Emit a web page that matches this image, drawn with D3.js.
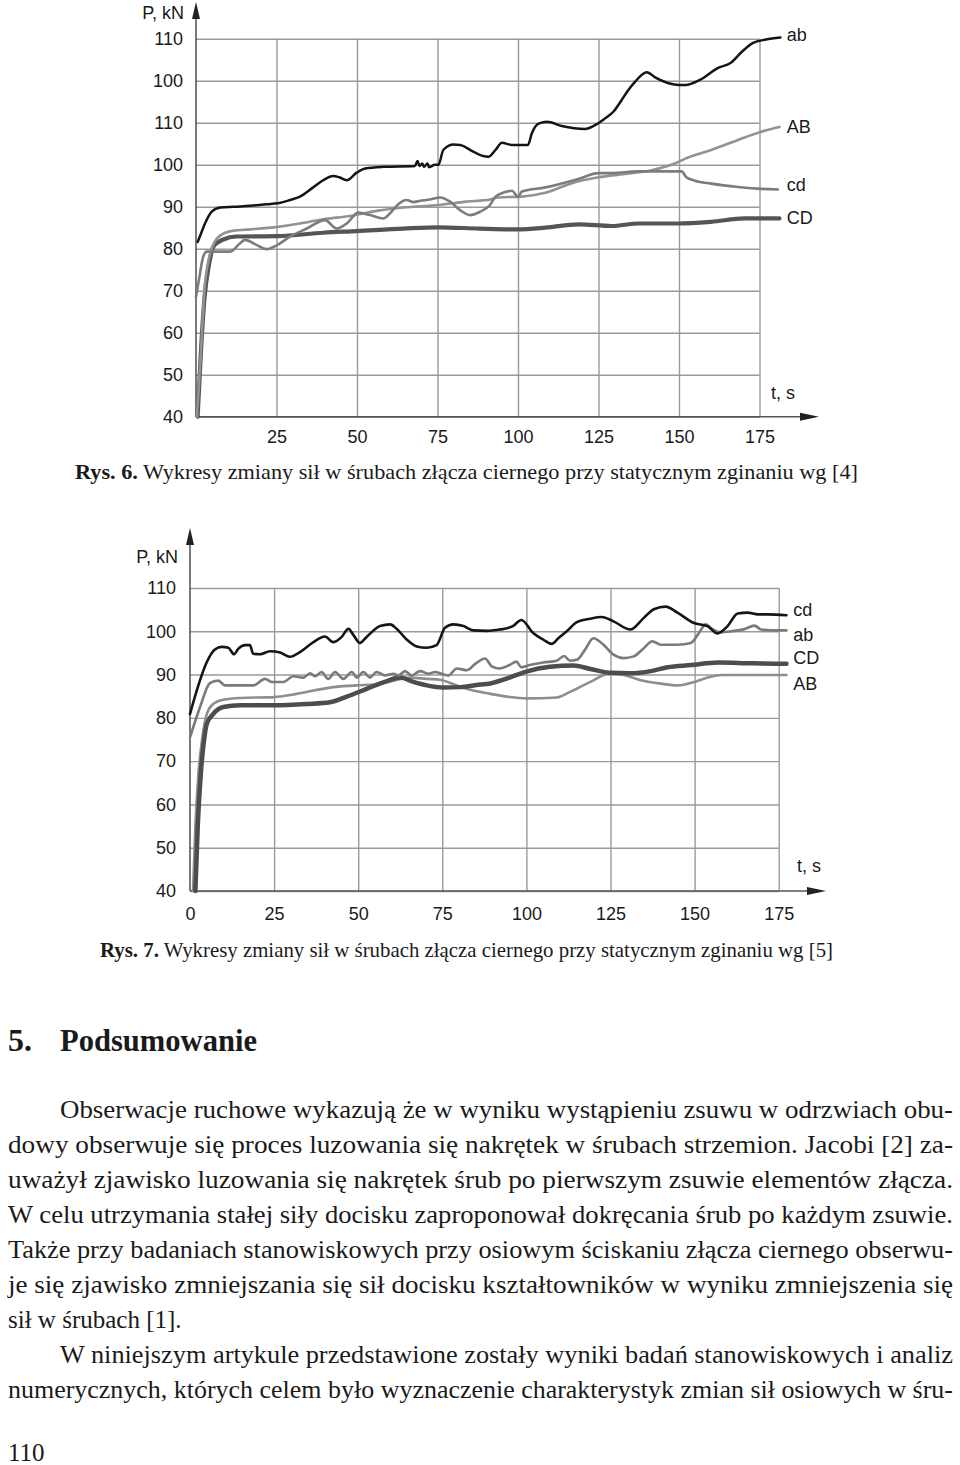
<!DOCTYPE html>
<html>
<head>
<meta charset="utf-8" />
<title>Rys. 6 i 7</title>
<script src="https://d3js.org/d3.v7.min.js"></script>
<style>
    body { margin: 0; background: #fff; }
    .chart text { font-family: "Liberation Sans", Arial, sans-serif; font-size: 18px; fill: #1a1a1a; }
    .grid line { stroke: #9a9a9a; stroke-width: 1.4; }
    .grid path { display: none; }
    .page text { font-family: "Liberation Serif", "Times New Roman", serif; fill: #1a1a1a; }
</style>
</head>
<body>
<div id="page"></div>
<script>
// ---- data (t in s, P in axis position units) ----
var timeTicks6 = [25, 50, 75, 100, 125, 150, 175];
var timeTicks7 = [0, 25, 50, 75, 100, 125, 150, 175];
var forceTicks6 = [40, 50, 60, 70, 80, 90, 100, 110, 120, 130];
var forceLabels6 = ["40", "50", "60", "70", "80", "90", "100", "110", "100", "110"];
var forceTicks7 = [40, 50, 60, 70, 80, 90, 100, 110];
var forceLabels7 = ["40", "50", "60", "70", "80", "90", "100", "110"];

var fig6_ab = [[0.5,81.6],[1.2,82.9],[2.8,86],[4.9,88.8],[7.5,89.8],[11.6,90],[16.8,90.2],[22,90.6],[25.3,90.8],[29.2,91.6],[32.3,92.4],[36.4,94.6],[39.5,96.3],[42.6,97.3],[44.5,97],[46.8,96.3],[49.9,98.1],[52.5,99.1],[58.2,99.5],[68,99.7],[68.8,100.9],[69.4,99.7],[70.3,100.3],[70.8,99.5],[71.9,100.3],[72.4,99.4],[74.2,100],[75.3,100],[76.8,103.5],[80,104.8],[82,104.7],[86.1,103.1],[89,102.1],[90.9,101.9],[93,103.5],[95,105.2],[98.1,104.7],[103.1,104.7],[104.3,107.5],[106.4,109.8],[109,110.2],[113.6,109.2],[120.8,108.5],[123.9,109.4],[127,111],[129.6,112.6],[132.2,115.4],[134,117.5],[136.4,119.8],[140,122],[142.6,120.8],[146.8,119.4],[150,119],[152,119],[156.5,120.2],[162,123],[166,124.2],[169.7,127],[173,129],[177,129.8],[181.5,130.3]];
var fig6_AB = [[0.3,40],[1.5,55],[2.6,70],[4.1,78],[5.7,81.5],[8.5,83.6],[11.6,84.3],[16.8,84.6],[25.3,85.2],[32.3,86],[39.5,87],[47.8,87.8],[56.1,89],[64.4,89.8],[75.3,90.4],[84,91.2],[91.3,91.7],[94,92.2],[101.2,92.4],[108.5,93.3],[116.7,95.6],[125,97],[133.2,97.8],[141.5,98.7],[148.7,100.3],[152.8,101.7],[160,103.5],[170.4,106.5],[176.6,108.1],[181.2,109]];
var fig6_cd = [[0,68.5],[1,73],[2.2,78],[3.3,79.3],[6,79.3],[10.6,79.3],[13.7,81.3],[15.2,82.1],[18.8,80.9],[21.9,79.9],[25.3,80.9],[29.2,82.9],[34.4,84.8],[40.1,86.8],[43.7,84.8],[46.8,86],[50.4,88.6],[54,88],[58.2,87.2],[60.2,88.4],[62.8,90.6],[65.4,91.6],[67.5,91.1],[69.6,91.4],[72.7,91.7],[75.8,92.2],[78.9,91.2],[82,89.2],[85.1,88],[88.2,88.8],[91.3,90.4],[93,92.4],[96,93.5],[98.1,93.8],[100,92.4],[101.2,93.6],[108.5,94.6],[118.8,96.6],[125,98],[129,98],[137.4,98.4],[145.6,98.4],[150.8,98.4],[152.3,97],[154.9,96.2],[160,95.5],[168.3,94.7],[174.5,94.3],[180.7,94.1]];
var fig6_CD = [[0.5,40],[1.5,55],[2.6,68],[4,76],[5.4,80.5],[8.5,82.2],[12.6,82.9],[25.3,83],[39.5,83.8],[49.9,84.2],[64.4,84.8],[75.3,85.1],[87.8,84.8],[100,84.6],[108.5,85],[118.8,85.8],[129.1,85.4],[137.4,86],[149.7,86],[160,86.4],[170.4,87.2],[181.2,87.2]];

var fig7_cd = [[0,80.9],[2,86.3],[5,92.9],[7.4,95.8],[9.4,96.4],[11.4,96.2],[13.1,94.7],[14.4,96],[16.4,96.8],[17.8,96.8],[18.8,94.8],[20.8,94.7],[23.8,95.4],[26.8,95.1],[29.7,94.1],[32.7,95.2],[36.7,97.5],[40.1,98.8],[42.6,97.5],[45.1,98.7],[47.1,100.6],[48.6,99.1],[50.5,97.3],[52.5,98.7],[56.5,101.2],[59.5,101.6],[61.4,100.6],[64.4,98.1],[67.4,96.5],[70.4,96.2],[73.3,96.8],[75.8,100.8],[78.3,101.6],[81.3,101.2],[84.2,100.2],[88.2,100.1],[91,100.3],[93,100.5],[96,101.2],[98.5,102.6],[102,99.6],[105,98.1],[107.5,97.1],[109.5,98.4],[112,100],[115,102.1],[118.9,102.9],[122.4,103.3],[125.9,102.3],[130.9,100.4],[134.9,103.1],[137.9,105.1],[141.4,105.7],[144.9,104.3],[149.8,101.9],[153.8,101.2],[156.8,99.5],[159.8,101.2],[162.8,104.1],[165.8,104.3],[168.8,103.9],[171.8,103.9],[177.3,103.7]];
var fig7_ab = [[0,75.5],[3,82.5],[5.9,88],[8.4,88.6],[10.4,87.5],[14.9,87.5],[18.8,87.5],[22.3,89],[24.3,88.3],[27.8,88.3],[30.7,89.6],[33.7,89.3],[35.7,90.3],[37.2,89.6],[39.1,90.6],[41.1,89],[43.1,90.6],[45.6,89],[48.1,90.6],[49.6,89.3],[51.5,90.6],[53.5,89.3],[55.5,90.6],[58,89.8],[60.5,90.2],[62,89.8],[63.9,90.8],[65.9,89.8],[68.4,90.8],[70.9,90.2],[72.8,90.6],[74.8,90.2],[76.8,89.8],[79.3,91.4],[82.3,91],[84.7,92.4],[87.7,93.7],[89.7,91.9],[92,91.4],[95,92.2],[97,93],[98.5,91.7],[101,92.2],[105,92.8],[109,93.2],[111.2,94.3],[113,93.2],[115,93.4],[117.4,95.7],[119.9,98.4],[122.9,96.9],[125.9,94.6],[128.9,93.8],[131.9,94.2],[134.9,96.1],[137.4,97.7],[139.9,96.9],[144.9,96.9],[148.9,97.3],[151.3,99.6],[153.3,101.6],[155.3,100.5],[157.8,99.8],[160.8,100],[164.8,100.5],[167.8,101.3],[169.8,100.4],[172.8,100.2],[177.3,100.2]];
var fig7_CD = [[1.6,40],[2.3,55],[3.2,67],[4.2,75],[5,78.6],[6.9,80.9],[9.9,82.5],[14.9,82.9],[25,82.9],[34.7,83.2],[41.6,83.6],[46.6,84.9],[52.5,86.7],[58.5,88.5],[62.4,89.3],[66.4,88.3],[70.4,87.5],[75.3,87],[80.3,87.1],[86.2,87.7],[89,87.9],[95,89.3],[100,90.7],[107,91.8],[114,92.1],[119,91.3],[125,90.4],[131,90.3],[137,90.8],[142,91.7],[149,92.2],[157,92.8],[167,92.6],[177.3,92.5]];
var fig7_AB = [[0.9,40],[1.6,55],[2.5,67],[3.6,75],[5,80.9],[6.9,83.2],[9.9,84.2],[14.9,84.6],[25,84.8],[30.7,85.4],[36.7,86.3],[42.6,87.1],[49.6,87.5],[56.5,87.9],[60.5,88.6],[65.4,89.3],[70.4,89],[74.3,88.8],[79.3,87.5],[84.2,86.3],[89,85.6],[95,84.8],[100,84.5],[109,84.7],[113,86],[119,88.3],[125,90.3],[129,89.9],[134,88.7],[140,87.9],[145,87.5],[150,88.3],[154,89.3],[158,89.9],[169,89.9],[177.3,89.9]];

// series names and where their end labels sit (t, P)
var fig6_names = ["ab", "AB", "cd", "CD"];
var fig6_labelAt = [[183.5, 130.9], [183.5, 109], [183.5, 95.2], [183.5, 87.3]];
var fig7_names = ["cd", "ab", "CD", "AB"];
var fig7_labelAt = [[179.3, 104.9], [179.3, 99.1], [179.3, 93.8], [179.3, 88]];

var svg = d3.select("#page").append("svg")
    .attr("width", 960)
    .attr("height", 1465)
    .style("display", "block");

svg.append("rect").attr("width", 960).attr("height", 1465).attr("fill", "#fff");

function drawChart(cfg) {
    var g = svg.append("g").attr("class", "chart");

    var x = d3.scaleLinear().domain([0, 175]).range(cfg.xRange);
    var y = d3.scaleLinear().domain(cfg.yDomain).range(cfg.yRange);
    var x0 = x(0), yBottom = y(cfg.yDomain[0]), yTop = y(cfg.yDomain[1]);

    // horizontal grid + y labels
    g.append("g")
        .attr("class", "grid")
        .attr("transform", "translate(" + x0 + ",0)")
        .call(d3.axisLeft(y)
            .tickValues(cfg.yTicks)
            .tickFormat(function (d, i) { return cfg.yLabels[i]; })
            .tickSize(-(x(175) - x0))
            .tickPadding(cfg.yPad))
        .call(function (a) { a.selectAll("text").style("font-size", "18px").attr("fill", "#1a1a1a"); });

    // vertical grid + t labels
    g.append("g")
        .attr("class", "grid")
        .attr("transform", "translate(0," + yBottom + ")")
        .call(d3.axisBottom(x)
            .tickValues(cfg.xTicks)
            .tickSize(-(yBottom - yTop))
            .tickPadding(cfg.xPad))
        .call(function (a) {
            a.selectAll("text").style("font-size", "18px").attr("fill", "#1a1a1a");
            a.selectAll(".tick").filter(function (d) { return d === 0; }).select("line").remove();
        });

    // axes with arrows
    g.append("line").attr("x1", x0).attr("x2", x0).attr("y1", yBottom).attr("y2", cfg.arrowTop + 12)
        .attr("stroke", "#333").attr("stroke-width", 1.3);
    g.append("path")
        .attr("d", "M" + x0 + "," + cfg.arrowTop + "L" + (x0 - 4) + "," + (cfg.arrowTop + 17) + "L" + (x0 + 4) + "," + (cfg.arrowTop + 17) + "Z")
        .attr("fill", "#222");
    g.append("line").attr("x1", x0).attr("x2", cfg.arrowRight - 14).attr("y1", yBottom).attr("y2", yBottom)
        .attr("stroke", "#555").attr("stroke-width", 1.6);
    g.append("path")
        .attr("d", "M" + cfg.arrowRight + "," + yBottom + "L" + (cfg.arrowRight - 19) + "," + (yBottom - 4) + "L" + (cfg.arrowRight - 19) + "," + (yBottom + 4) + "Z")
        .attr("fill", "#222");

    g.append("text").attr("x", x0 - 12).attr("y", cfg.pLabelY).attr("text-anchor", "end").text("P, kN");
    g.append("text").attr("x", cfg.tLabelX).attr("y", cfg.tLabelY).text("t, s");

    var line = d3.line()
        .x(function (d) { return x(d[0]); })
        .y(function (d) { return y(d[1]); })
        .curve(d3.curveMonotoneX);

    cfg.series.forEach(function (s) {
        g.append("path")
            .datum(s.data)
            .attr("d", line)
            .attr("fill", "none")
            .attr("stroke", s.color)
            .attr("stroke-width", s.width)
            .attr("stroke-linejoin", "round")
            .attr("stroke-linecap", "round");
    });

    cfg.names.forEach(function (n, i) {
        g.append("text")
            .attr("x", x(cfg.labelAt[i][0]))
            .attr("y", y(cfg.labelAt[i][1]))
            .attr("dy", "0.35em")
            .text(n);
    });
}

// Rys. 6
drawChart({
    xRange: [196, 759.5], yDomain: [40, 130], yRange: [416.7, 38.7],
    xTicks: timeTicks6, yTicks: forceTicks6, yLabels: forceLabels6,
    yPad: 13, xPad: 14, arrowTop: 2, arrowRight: 819,
    pLabelY: 19, tLabelX: 771, tLabelY: 399,
    names: fig6_names, labelAt: fig6_labelAt,
    series: [
        { data: fig6_CD, color: "#555555", width: 4.2 },
        { data: fig6_AB, color: "#929292", width: 2.6 },
        { data: fig6_cd, color: "#7c7c7c", width: 2.6 },
        { data: fig6_ab, color: "#151515", width: 2.5 }
    ]
});

// Rys. 7
drawChart({
    xRange: [190, 778.7], yDomain: [40, 110], yRange: [891, 588],
    xTicks: timeTicks7, yTicks: forceTicks7, yLabels: forceLabels7,
    yPad: 14, xPad: 16, arrowTop: 528, arrowRight: 826,
    pLabelY: 563, tLabelX: 797, tLabelY: 872,
    names: fig7_names, labelAt: fig7_labelAt,
    series: [
        { data: fig7_AB, color: "#8e8e8e", width: 2.6 },
        { data: fig7_CD, color: "#4d4d4d", width: 4.5 },
        { data: fig7_ab, color: "#7a7a7a", width: 2.6 },
        { data: fig7_cd, color: "#151515", width: 2.6 }
    ]
});

// ---- text of the page ----
var page = svg.append("g").attr("class", "page");

function caption(num, rest, x, y, w) {
    var t = page.append("text").attr("x", x).attr("y", y).style("font-size", "21px")
        .attr("textLength", w).attr("lengthAdjust", "spacingAndGlyphs");
    t.append("tspan").style("font-weight", "bold").text(num);
    t.append("tspan").text(rest);
}
caption("Rys. 6.", " Wykresy zmiany sił w śrubach złącza ciernego przy statycznym zginaniu wg [4]", 75, 479, 783);
caption("Rys. 7.", " Wykresy zmiany sił w śrubach złącza ciernego przy statycznym zginaniu wg [5]", 100, 957, 733);

page.append("text").attr("x", 8).attr("y", 1051).style("font-size", "32px").style("font-weight", "bold").text("5.");
page.append("text").attr("x", 60).attr("y", 1051).style("font-size", "32px").style("font-weight", "bold")
    .attr("textLength", 197).attr("lengthAdjust", "spacingAndGlyphs").text("Podsumowanie");

var paraLines = [
    { x: 60, text: "Obserwacje ruchowe wykazują że w wyniku wystąpieniu zsuwu w odrzwiach obu-", justify: true },
    { x: 8, text: "dowy obserwuje się proces luzowania się nakrętek w śrubach strzemion. Jacobi [2] za-", justify: true },
    { x: 8, text: "uważył zjawisko luzowania się nakrętek śrub po pierwszym zsuwie elementów złącza.", justify: true },
    { x: 8, text: "W celu utrzymania stałej siły docisku zaproponował dokręcania śrub po każdym zsuwie.", justify: true },
    { x: 8, text: "Także przy badaniach stanowiskowych przy osiowym ściskaniu złącza ciernego obserwu-", justify: true },
    { x: 8, text: "je się zjawisko zmniejszania się sił docisku kształtowników w wyniku zmniejszenia się", justify: true },
    { x: 8, text: "sił w śrubach [1].", justify: false },
    { x: 60, text: "W niniejszym artykule przedstawione zostały wyniki badań stanowiskowych i analiz", justify: true },
    { x: 8, text: "numerycznych, których celem było wyznaczenie charakterystyk zmian sił osiowych w śru-", justify: true }
];
paraLines.forEach(function (l, i) {
    var t = page.append("text")
        .attr("x", l.x)
        .attr("y", 1118 + i * 35)
        .style("font-size", "25px")
        .text(l.text);
    if (l.justify) t.attr("textLength", 953 - l.x).attr("lengthAdjust", "spacingAndGlyphs");
});

page.append("text").attr("x", 8).attr("y", 1461).style("font-size", "25px").text("110");
</script>
</body>
</html>
